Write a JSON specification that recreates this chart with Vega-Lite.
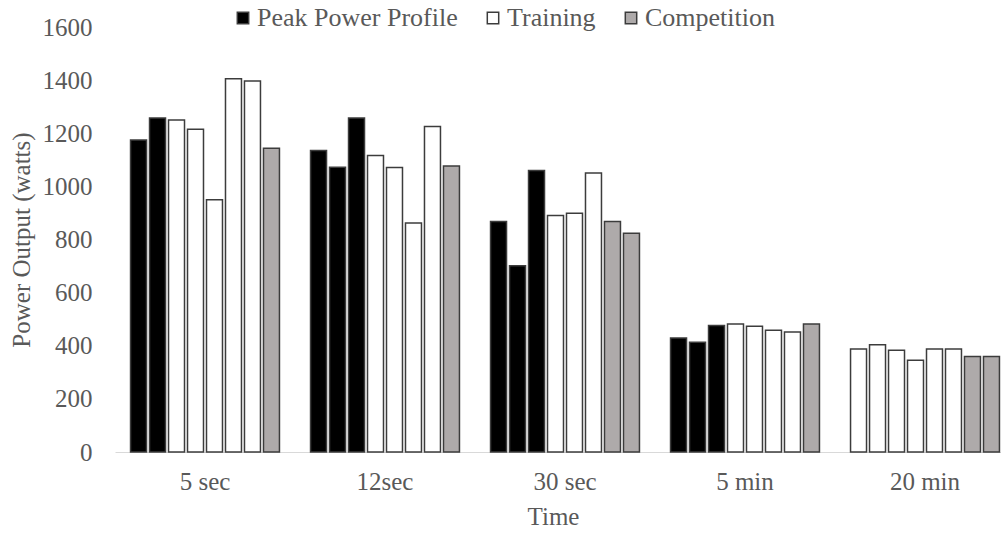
{
  "$schema": "https://vega.github.io/schema/vega-lite/v6.json",
  "autosize": "none",
  "width": 886,
  "height": 425,
  "padding": {"left": 115, "top": 27, "right": 0, "bottom": 82},
  "background": "#ffffff",
  "config": {"font": "Liberation Serif", "view": {"stroke": null}},
  "data": {
    "values": [
      {"time": "5 sec", "idx": 1, "type": "Peak Power Profile", "power": 1175},
      {"time": "5 sec", "idx": 2, "type": "Peak Power Profile", "power": 1257},
      {"time": "5 sec", "idx": 3, "type": "Training", "power": 1250},
      {"time": "5 sec", "idx": 4, "type": "Training", "power": 1215},
      {"time": "5 sec", "idx": 5, "type": "Training", "power": 950},
      {"time": "5 sec", "idx": 6, "type": "Training", "power": 1405},
      {"time": "5 sec", "idx": 7, "type": "Training", "power": 1397},
      {"time": "5 sec", "idx": 8, "type": "Competition", "power": 1144},
      {"time": "12sec", "idx": 1, "type": "Peak Power Profile", "power": 1135},
      {"time": "12sec", "idx": 2, "type": "Peak Power Profile", "power": 1072},
      {"time": "12sec", "idx": 3, "type": "Peak Power Profile", "power": 1257},
      {"time": "12sec", "idx": 4, "type": "Training", "power": 1116},
      {"time": "12sec", "idx": 5, "type": "Training", "power": 1071},
      {"time": "12sec", "idx": 6, "type": "Training", "power": 862},
      {"time": "12sec", "idx": 7, "type": "Training", "power": 1225},
      {"time": "12sec", "idx": 8, "type": "Competition", "power": 1077},
      {"time": "30 sec", "idx": 1, "type": "Peak Power Profile", "power": 868},
      {"time": "30 sec", "idx": 2, "type": "Peak Power Profile", "power": 701},
      {"time": "30 sec", "idx": 3, "type": "Peak Power Profile", "power": 1060},
      {"time": "30 sec", "idx": 4, "type": "Training", "power": 890},
      {"time": "30 sec", "idx": 5, "type": "Training", "power": 899},
      {"time": "30 sec", "idx": 6, "type": "Training", "power": 1050},
      {"time": "30 sec", "idx": 7, "type": "Competition", "power": 868},
      {"time": "30 sec", "idx": 8, "type": "Competition", "power": 824},
      {"time": "5 min", "idx": 1, "type": "Peak Power Profile", "power": 429},
      {"time": "5 min", "idx": 2, "type": "Peak Power Profile", "power": 413},
      {"time": "5 min", "idx": 3, "type": "Peak Power Profile", "power": 476},
      {"time": "5 min", "idx": 4, "type": "Training", "power": 482},
      {"time": "5 min", "idx": 5, "type": "Training", "power": 473},
      {"time": "5 min", "idx": 6, "type": "Training", "power": 458},
      {"time": "5 min", "idx": 7, "type": "Training", "power": 452},
      {"time": "5 min", "idx": 8, "type": "Competition", "power": 482},
      {"time": "20 min", "idx": 1, "type": "Training", "power": 388},
      {"time": "20 min", "idx": 2, "type": "Training", "power": 404},
      {"time": "20 min", "idx": 3, "type": "Training", "power": 383},
      {"time": "20 min", "idx": 4, "type": "Training", "power": 345},
      {"time": "20 min", "idx": 5, "type": "Training", "power": 388},
      {"time": "20 min", "idx": 6, "type": "Training", "power": 388},
      {"time": "20 min", "idx": 7, "type": "Competition", "power": 360},
      {"time": "20 min", "idx": 8, "type": "Competition", "power": 360}
    ]
  },
  "mark": {"type": "bar", "stroke": "#3c3c3c", "strokeWidth": 1.5, "cornerRadius": 0},
  "encoding": {
    "x": {
      "field": "time",
      "type": "nominal",
      "sort": ["5 sec", "12sec", "30 sec", "5 min", "20 min"],
      "scale": {"range": [0, 900], "paddingInner": 0.156, "paddingOuter": 0.078},
      "axis": {
        "title": "Time",
        "titleFontSize": 25,
        "titleFontWeight": "normal",
        "titleColor": "#595959",
        "titleX": 438,
        "titlePadding": 10,
        "labelFontSize": 25,
        "labelColor": "#595959",
        "labelAngle": 0,
        "labelPadding": 17,
        "ticks": false,
        "domainColor": "#d9d9d9",
        "domainWidth": 1.2,
        "grid": false
      }
    },
    "xOffset": {
      "field": "idx",
      "type": "ordinal",
      "scale": {"paddingInner": 0.158, "paddingOuter": 0.079}
    },
    "y": {
      "field": "power",
      "type": "quantitative",
      "scale": {"domain": [0, 1600], "nice": false},
      "axis": {
        "title": "Power Output (watts)",
        "titleFontSize": 25,
        "titleFontWeight": "normal",
        "titleColor": "#595959",
        "titlePadding": 8,
        "values": [0, 200, 400, 600, 800, 1000, 1200, 1400, 1600],
        "format": "d",
        "labelFontSize": 25,
        "labelColor": "#595959",
        "labelPadding": 23,
        "ticks": false,
        "domain": false,
        "grid": false
      }
    },
    "fill": {
      "field": "type",
      "type": "nominal",
      "scale": {
        "domain": ["Peak Power Profile", "Training", "Competition"],
        "range": ["#000000", "#ffffff", "#aeaaaa"]
      },
      "legend": {
        "title": null,
        "orient": "none",
        "direction": "horizontal",
        "legendX": 115,
        "legendY": -22,
        "padding": 0,
        "symbolType": "square",
        "symbolSize": 130,
        "symbolStrokeColor": "#3c3c3c",
        "symbolStrokeWidth": 1.5,
        "labelFontSize": 26,
        "labelColor": "#595959",
        "labelOffset": 1,
        "labelLimit": 0,
        "columnPadding": 22
      }
    }
  }
}
